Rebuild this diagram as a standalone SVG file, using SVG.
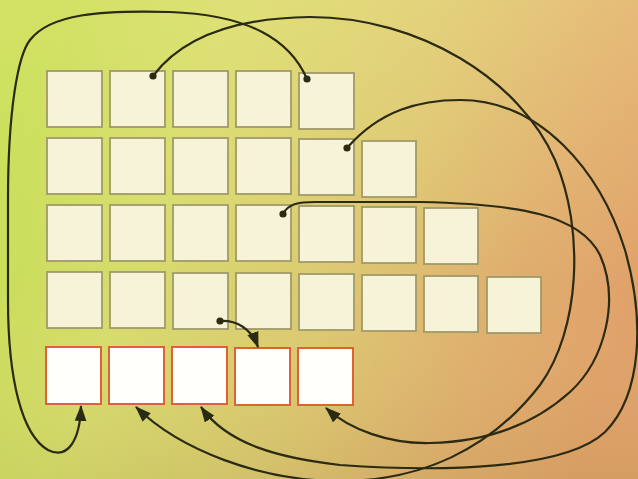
<svg xmlns="http://www.w3.org/2000/svg" width="638" height="479" viewBox="0 0 638 479">
<defs>
<linearGradient id="bg" x1="0" y1="0.35" x2="1" y2="0.65">
<stop offset="0" stop-color="#c6de55"/>
<stop offset="0.25" stop-color="#d6dc6c"/>
<stop offset="0.55" stop-color="#dcc872"/>
<stop offset="0.8" stop-color="#dfae6e"/>
<stop offset="1" stop-color="#e0a06a"/>
</linearGradient>
<linearGradient id="shade" x1="0" y1="0" x2="0" y2="1">
<stop offset="0" stop-color="#fff0a0" stop-opacity="0.22"/>
<stop offset="0.6" stop-color="#fff0a0" stop-opacity="0"/>
<stop offset="1" stop-color="#8a8a30" stop-opacity="0.12"/>
</linearGradient>
<marker id="arr" markerUnits="userSpaceOnUse" markerWidth="16" markerHeight="12" viewBox="0 0 15 11" refX="14" refY="5.5" orient="auto">
<path d="M0,0 L15,5.5 L0,11 z" fill="#2b2a12"/>
</marker>
<marker id="dot" markerUnits="userSpaceOnUse" markerWidth="9" markerHeight="9" viewBox="0 0 9 9" refX="4.5" refY="4.5">
<circle cx="4.5" cy="4.5" r="3.6" fill="#2b2a12"/>
</marker>
<style>
.b{fill:#f7f3d8;stroke:#a09a6a;stroke-width:1.8}
.r{fill:#fffffb;stroke:#e0603a;stroke-width:2}
.c{fill:none;stroke:#2b2a12;stroke-width:2.2;marker-start:url(#dot);marker-end:url(#arr)}
</style>
</defs>
<rect width="638" height="479" fill="url(#bg)"/>
<rect width="638" height="479" fill="url(#shade)"/>
<g id="row1">
<g id="n1-1"><rect class="b" x="47" y="71" width="55" height="56"/></g>
<g id="n1-2"><rect class="b" x="110" y="71" width="55" height="56"/></g>
<g id="n1-3"><rect class="b" x="173" y="71" width="55" height="56"/></g>
<g id="n1-4"><rect class="b" x="236" y="71" width="55" height="56"/></g>
<g id="n1-5"><rect class="b" x="299" y="73" width="55" height="56"/></g>
</g>
<g id="row2">
<g id="n2-1"><rect class="b" x="47" y="138" width="55" height="56"/></g>
<g id="n2-2"><rect class="b" x="110" y="138" width="55" height="56"/></g>
<g id="n2-3"><rect class="b" x="173" y="138" width="55" height="56"/></g>
<g id="n2-4"><rect class="b" x="236" y="138" width="55" height="56"/></g>
<g id="n2-5"><rect class="b" x="299" y="139" width="55" height="56"/></g>
<g id="n2-6"><rect class="b" x="362" y="141" width="54" height="56"/></g>
</g>
<g id="row3">
<g id="n3-1"><rect class="b" x="47" y="205" width="55" height="56"/></g>
<g id="n3-2"><rect class="b" x="110" y="205" width="55" height="56"/></g>
<g id="n3-3"><rect class="b" x="173" y="205" width="55" height="56"/></g>
<g id="n3-4"><rect class="b" x="236" y="205" width="55" height="56"/></g>
<g id="n3-5"><rect class="b" x="299" y="206" width="55" height="56"/></g>
<g id="n3-6"><rect class="b" x="362" y="207" width="54" height="56"/></g>
<g id="n3-7"><rect class="b" x="424" y="208" width="54" height="56"/></g>
</g>
<g id="row4">
<g id="n4-1"><rect class="b" x="47" y="272" width="55" height="56"/></g>
<g id="n4-2"><rect class="b" x="110" y="272" width="55" height="56"/></g>
<g id="n4-3"><rect class="b" x="173" y="273" width="55" height="56"/></g>
<g id="n4-4"><rect class="b" x="236" y="273" width="55" height="56"/></g>
<g id="n4-5"><rect class="b" x="299" y="274" width="55" height="56"/></g>
<g id="n4-6"><rect class="b" x="362" y="275" width="54" height="56"/></g>
<g id="n4-7"><rect class="b" x="424" y="276" width="54" height="56"/></g>
<g id="n4-8"><rect class="b" x="487" y="277" width="54" height="56"/></g>
</g>
<g id="output">
<g id="o1"><rect class="r" x="46" y="347" width="55" height="57"/></g>
<g id="o2"><rect class="r" x="109" y="347" width="55" height="57"/></g>
<g id="o3"><rect class="r" x="172" y="347" width="55" height="57"/></g>
<g id="o4"><rect class="r" x="235" y="348" width="55" height="57"/></g>
<g id="o5"><rect class="r" x="298" y="348" width="55" height="57"/></g>
</g>
<g id="connectors">
<path id="cA" class="c" d="M153,76 C180,40 230,18 310,17 C420,17 520,80 555,160 C585,230 580,330 540,385 C490,450 420,481 340,481 C260,481 180,450 136,407"/>
<path id="cB" class="c" d="M347,148 C380,110 420,100 460,100 C540,100 600,170 625,250 C645,320 642,395 605,432 C565,470 440,472 340,465 C280,458 228,445 201,407"/>
<path id="cC" class="c" d="M283,214 C288,204 298,202 315,202 L420,202 C520,204 580,215 600,255 C620,300 605,360 570,392 C530,428 480,442 430,443 C390,444 350,430 326,408"/>
<path id="cD" class="c" d="M307,79 C290,40 250,15 170,12 C100,10 50,14 30,40 C18,55 8,110 8,200 L8,300 C8,380 22,435 48,450 C68,460 80,440 81,406"/>
<path id="cE" class="c" d="M220,321 C236,320 251,328 258,347"/>
</g>
</svg>
